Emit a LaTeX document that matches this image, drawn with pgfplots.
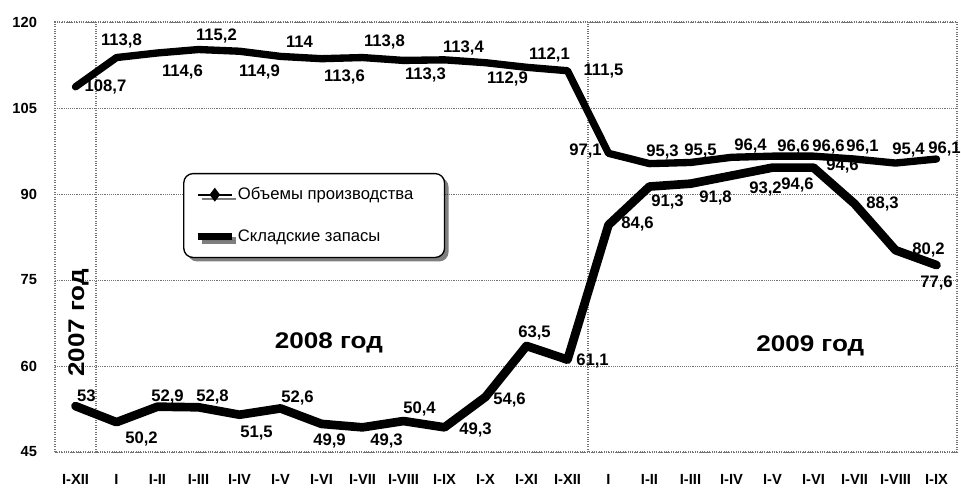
\documentclass[border=0pt]{standalone}
\usepackage{fontspec}
\setmainfont{Liberation Sans}
\usepackage{pgfplots}
\pgfplotsset{compat=1.18}
\usepackage{pgfplotstable}
\usetikzlibrary{shadows}

\pgfplotstableread{
x y lab dx dy
0 108.7 108,7 30 0
1 113.8 113,8 5 17
2 114.6 114,6 25 -19
3 115.2 115,2 18 14
4 114.9 114,9 20 -21
5 114.0 114 19 15
6 113.6 113,6 23 -18
7 113.8 113,8 22 16
8 113.3 113,3 22 -15
9 113.4 113,4 19 12
10 112.9 112,9 22 -16
11 112.1 112,1 23 12
12 111.5 111,5 36 0
13 97.1 97,1 -23 2
14 95.3 95,3 13 12
15 95.5 95,5 10 11
16 96.4 96,4 19 11
17 96.6 96,6 21 9
18 96.6 96,6 15 9
19 96.1 96,1 8 12
20 95.4 95,4 13 13
21 96.1 96,1 8 10
}\prodtab

\pgfplotstableread{
x y lab dx dy
0 53.0 53 11 10
1 50.2 50,2 25 -17
2 52.9 52,9 10 10
3 52.8 52,8 14 10
4 51.5 51,5 17 -18
5 52.6 52,6 17 10
6 49.9 49,9 8 -17
7 49.3 49,3 24 -14
8 50.4 50,4 16 12
9 49.3 49,3 31 -3
10 54.6 54,6 24 -3
11 63.5 63,5 8 13
12 61.1 61,1 25 -1
13 84.6 84,6 29 1
14 91.3 91,3 18 -15
15 91.8 91,8 25 -14
16 93.2 93,2 34 -13
17 94.6 94,6 25 -17
18 94.6 94,6 29 2
19 88.3 88,3 28 0
20 80.2 80,2 33 0
21 77.6 77,6 0 -18
}\stocktab

\begin{document}
\begin{tikzpicture}
\path[use as bounding box] (-41.25pt,-27.75pt) rectangle (679.5pt,339pt);
\begin{axis}[
  scale only axis,
  width=676.5pt, height=322.5pt,
  xmin=-0.5, xmax=21.5,
  ymin=45, ymax=120,
  ytick={45,60,75,90,105,120},
  xtick={0,...,21},
  xticklabels={I-XII,I,I-II,I-III,I-IV,I-V,I-VI,I-VII,I-VIII,I-IX,I-X,I-XI,I-XII,I,I-II,I-III,I-IV,I-V,I-VI,I-VII,I-VIII,I-IX},
  major tick length=0pt,
  axis line style={black!55, densely dotted, line width=0.8pt},
  ymajorgrids,
  grid style={black!55, densely dotted, line width=0.7pt},
  yticklabel style={font=\bfseries\fontsize{11}{11}\selectfont, xshift=-10pt},
  xticklabel style={font=\bfseries\fontsize{11}{11}\selectfont, yshift=-13pt},
  /pgf/number format/assume math mode=true,
  clip=false,
  legend style={at={(0.142,0.649)}, anchor=north west, draw=black, line width=1pt,
    rounded corners=7pt, drop shadow={shadow xshift=3pt, shadow yshift=-3pt, fill=black},
    font=\fontsize{12.5}{12.5}\selectfont, row sep=17pt, inner xsep=8pt, inner ysep=8.5pt},
  legend cell align=left,
  legend image code/.code={\draw[mark repeat=2,mark phase=2,#1] plot coordinates {(0cm,0cm) (0.45cm,0cm) (0.9cm,0cm)};},
]
\addlegendimage{black, line width=1.5pt, mark=diamond*, mark size=4pt}
\addlegendentry{\makebox[145pt][l]{Объемы производства}}
\addlegendimage{black, line width=5pt}
\addlegendentry{Складские запасы}

\draw[black!55, densely dotted, line width=0.8pt] (axis cs:0.5,45) -- (axis cs:0.5,120);
\draw[black!55, densely dotted, line width=0.8pt] (axis cs:12.5,45) -- (axis cs:12.5,120);

\addplot[black, line width=5.5pt, line join=round, line cap=round, mark=none, forget plot,
  point meta=explicit symbolic, nodes near coords,
  visualization depends on={\thisrow{dx} \as \dx},
  visualization depends on={\thisrow{dy} \as \dy},
  every node near coord/.append style={font=\bfseries\fontsize{12.5}{12.5}\selectfont, anchor=center, inner sep=0pt, xshift=\dx*0.75pt, yshift=\dy*0.75pt}]
  table[x=x, y=y, meta=lab] {\prodtab};

\addplot[black, line width=6.5pt, line join=round, line cap=round, mark=none, forget plot,
  point meta=explicit symbolic, nodes near coords,
  visualization depends on={\thisrow{dx} \as \dx},
  visualization depends on={\thisrow{dy} \as \dy},
  every node near coord/.append style={font=\bfseries\fontsize{12.5}{12.5}\selectfont, anchor=center, inner sep=0pt, xshift=\dx*0.75pt, yshift=\dy*0.75pt}]
  table[x=x, y=y, meta=lab] {\stocktab};

\node[font=\bfseries\fontsize{17}{17}\selectfont, rotate=90] at (axis cs:0.07,67.5) {\scalebox{1.15}[1]{2007 год}};
\node[font=\bfseries\fontsize{17}{17}\selectfont] at (axis cs:6.18,64) {\scalebox{1.15}[1]{2008 год}};
\node[font=\bfseries\fontsize{17}{17}\selectfont] at (axis cs:17.92,63.5) {\scalebox{1.15}[1]{2009 год}};
\end{axis}
\end{tikzpicture}
\end{document}
